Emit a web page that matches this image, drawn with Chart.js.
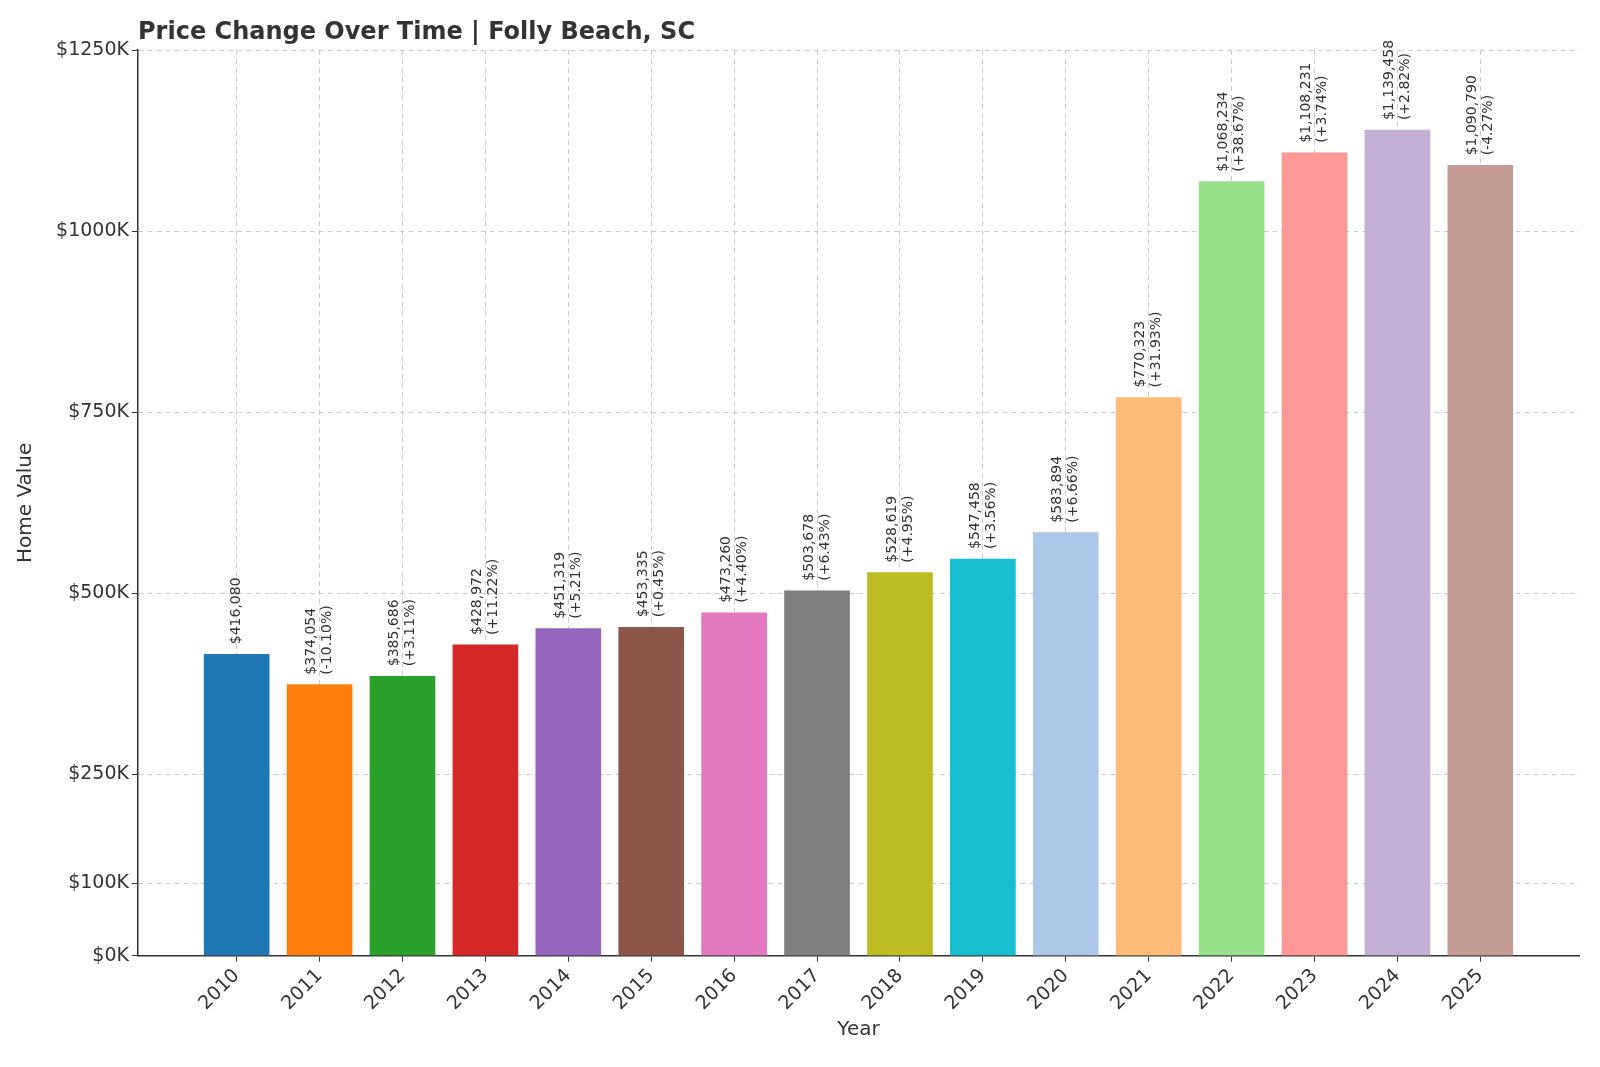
<!DOCTYPE html>
<html><head><meta charset="utf-8">
<script src="https://cdn.jsdelivr.net/npm/chart.js@4"></script>
<style>html,body{margin:0;padding:0;background:#fff}#w{width:1600px;height:1067px}</style>
</head><body><div id="w"><canvas id="c"></canvas></div>
<script>
const years=[2010,2011,2012,2013,2014,2015,2016,2017,2018,2019,2020,2021,2022,2023,2024,2025];
const values=[416080,374054,385686,428972,451319,453335,473260,503678,528619,547458,583894,770323,1068234,1108231,1139458,1090790];
const changes=[null,"-10.10%","+3.11%","+11.22%","+5.21%","+0.45%","+4.40%","+6.43%","+4.95%","+3.56%","+6.66%","+31.93%","+38.67%","+3.74%","+2.82%","-4.27%"];
const yTicks=[0,100000,250000,500000,750000,1000000,1250000];
const colors=["#1f77b4","#ff7f0e","#2ca02c","#d62728","#9467bd","#8c564b","#e377c2","#7f7f7f","#bcbd22","#17becf","#aec7e8","#ffbb78","#98df8a","#ff9896","#c5b0d5","#c49c94"];
const F="'DejaVu Sans', sans-serif";
const labelPlugin={id:'lbl',afterDatasetsDraw(ch){
 const ctx=ch.ctx,xs=ch.scales.x,ys=ch.scales.y;
 ctx.save();ctx.font="14px "+F;ctx.fillStyle="#333";ctx.textAlign="left";ctx.textBaseline="middle";
 values.forEach((v,i)=>{const x=xs.getPixelForValue(years[i]),y=ys.getPixelForValue(v)-10;
  const lines=["$"+v.toLocaleString('en-US')];if(changes[i])lines.push("("+changes[i]+")");
  ctx.save();ctx.translate(x,y);ctx.rotate(-Math.PI/2);
  const off=lines.length==2?-8:0;
  lines.forEach((t,k)=>ctx.fillText(t,0,off+k*16));ctx.restore();});
 ctx.font="bold 24px "+F;ctx.textBaseline="alphabetic";
 ctx.fillText("Price Change Over Time | Folly Beach, SC",ch.chartArea.left,39);
 ctx.restore();}};
new Chart(document.getElementById('c'),{type:'bar',
 data:{datasets:[{data:years.map((y,i)=>({x:y,y:values[i]})),backgroundColor:colors,barThickness:65,grouped:false}]},
 options:{responsive:true,maintainAspectRatio:false,animation:false,
  layout:{padding:{top:50,right:21,left:10,bottom:21}},
  plugins:{legend:{display:false},tooltip:{enabled:false}},
  scales:{
   x:{type:'linear',min:2008.81,max:2026.19,offset:false,
    afterBuildTicks(a){a.ticks=years.map(v=>({value:v}));},
    ticks:{color:"#333",font:{family:F,size:19},maxRotation:45,minRotation:45,callback:v=>String(v)},
    grid:{offset:false,color:"#ccc",drawTicks:true,tickColor:"#333",tickLength:6},border:{color:"#333",width:1.5,dash:[5,4]},
    title:{display:true,text:"Year",color:"#333",font:{family:F,size:20},padding:{top:0}}},
   y:{min:0,max:1250000,
    afterBuildTicks(a){a.ticks=yTicks.map(v=>({value:v}));},
    afterFit(a){a.width=128;},
    ticks:{color:"#333",font:{family:F,size:19},callback:v=>"$"+(v/1000)+"K"},
    grid:{color:"#ccc",tickColor:"#333",tickLength:6},border:{color:"#333",width:1.5,dash:[5,4]},
    title:{display:true,text:"Home Value",color:"#333",font:{family:F,size:20}}}
  }},
 plugins:[labelPlugin]
});
</script></body></html>
